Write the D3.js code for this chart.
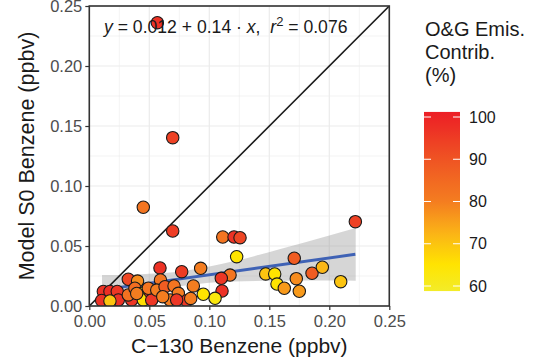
<!DOCTYPE html>
<html>
<head>
<meta charset="utf-8">
<script src="https://cdn.jsdelivr.net/npm/d3@7"></script>
<style>
  body { margin: 0; background: #fff; }
  text { font-family: "Liberation Sans", Arial, sans-serif; }
</style>
</head>
<body>
<svg id="chart" width="534" height="362"></svg>
<script>
// C-130 benzene (x), model S0 benzene (y), O&G contribution (%)
const c130 = [0.0567, 0.0695, 0.045, 0.0695, 0.1112, 0.1206, 0.1256, 0.1228, 0.2217, 0.1708,
  0.147, 0.1545, 0.1564, 0.1625, 0.1725, 0.175, 0.1856, 0.1942, 0.2095, 0.1173,
  0.110, 0.1106, 0.1048, 0.095, 0.0867, 0.0928, 0.077, 0.0589, 0.0593, 0.0325,
  0.0402, 0.0117, 0.0172, 0.0233, 0.0103, 0.0242, 0.0353, 0.0325, 0.038, 0.0437,
  0.045, 0.0506, 0.052, 0.0492, 0.0562, 0.0631, 0.0706, 0.0742, 0.0673, 0.0612,
  0.0812, 0.0845, 0.0728, 0.0172, 0.0395];
const modelS0 = [0.2361, 0.1403, 0.0823, 0.0625, 0.0575, 0.0575, 0.0569, 0.0411, 0.0703, 0.0398,
  0.0267, 0.0267, 0.0183, 0.0148, 0.0228, 0.0123, 0.0273, 0.0323, 0.0203, 0.0258,
  0.0231, 0.0125, 0.0064, 0.0098, 0.0167, 0.0314, 0.0286, 0.0317, 0.0217, 0.0223,
  0.0208, 0.0121, 0.0121, 0.0121, 0.0046, 0.005, 0.005, 0.0092, 0.0148, 0.0106,
  0.005, 0.0119, 0.005, 0.0148, 0.0133, 0.0161, 0.0167, 0.0106, 0.005, 0.0078,
  0.0044, 0.0063, 0.005, 0.0042, 0.0104];
const ogContrib = [97, 94, 82, 95, 82, 97, 93, 65, 94, 88,
  70, 65, 65, 76, 78, 76, 88, 72, 70, 82,
  96, 97, 63, 65, 80, 80, 95, 97, 82, 93,
  78, 97, 98, 96, 97, 97, 96, 83, 84, 65,
  66, 96, 96, 82, 80, 88, 82, 80, 80, 80,
  96, 80, 96, 70, 80];

// linear fit and its confidence band
const fitIntercept = 0.012;
const fitSlope = 0.14;
const bandX = [0.0106, 0.04, 0.08, 0.12, 0.16, 0.20, 0.222];
const bandLo = [0.0012, 0.0089, 0.0171, 0.0204, 0.0211, 0.0212, 0.0211];
const bandHi = [0.0258, 0.0263, 0.0293, 0.0372, 0.0477, 0.0588, 0.0651];

const axisTicks = [0, 0.05, 0.10, 0.15, 0.20, 0.25];
const gridMinor = [0.025, 0.075, 0.125, 0.175, 0.225];
const legendTicks = [60, 70, 80, 90, 100];
const legendLimits = [58.8, 101.2];
const colorStops = [59, 65, 72, 80, 90, 101];
const colorRange = ["#F3EC27", "#FFE400", "#FBB716", "#F47D20", "#EF5423", "#EC1F26"];

const svg = d3.select('#chart');
const font = '"Liberation Sans", Arial, sans-serif';
const plot = {left: 89.3, top: 6, size: 300};

const x = d3.scaleLinear().domain([0, 0.25]).range([plot.left, plot.left + plot.size]);
const y = d3.scaleLinear().domain([0, 0.25]).range([plot.top + plot.size, plot.top]);
const color = d3.scaleLinear().domain(colorStops).range(colorRange);

const defs = svg.append('defs');
defs.append('clipPath').attr('id', 'clip').append('rect')
  .attr('x', plot.left).attr('y', plot.top)
  .attr('width', plot.size).attr('height', plot.size);

// panel grid
const grid = svg.append('g');
gridMinor.forEach(v => {
  grid.append('line').attr('x1', x(v)).attr('x2', x(v)).attr('y1', y(0)).attr('y2', y(0.25))
    .attr('stroke', '#ebebeb').attr('stroke-width', 0.6);
  grid.append('line').attr('y1', y(v)).attr('y2', y(v)).attr('x1', x(0)).attr('x2', x(0.25))
    .attr('stroke', '#ebebeb').attr('stroke-width', 0.6);
});
axisTicks.forEach(v => {
  grid.append('line').attr('x1', x(v)).attr('x2', x(v)).attr('y1', y(0)).attr('y2', y(0.25))
    .attr('stroke', '#ebebeb').attr('stroke-width', 1.2);
  grid.append('line').attr('y1', y(v)).attr('y2', y(v)).attr('x1', x(0)).attr('x2', x(0.25))
    .attr('stroke', '#ebebeb').attr('stroke-width', 1.2);
});

const panel = svg.append('g').attr('clip-path', 'url(#clip)');

// confidence band
const area = d3.area().curve(d3.curveMonotoneX)
  .x((d, i) => x(bandX[i]))
  .y0((d, i) => y(bandLo[i]))
  .y1((d, i) => y(bandHi[i]));
panel.append('path').datum(bandX).attr('d', area)
  .attr('fill', '#999999').attr('fill-opacity', 0.4);

// fit line over the data range
const xMin = d3.min(c130), xMax = d3.max(c130);
panel.append('line')
  .attr('x1', x(xMin)).attr('y1', y(fitIntercept + fitSlope * xMin))
  .attr('x2', x(xMax)).attr('y2', y(fitIntercept + fitSlope * xMax))
  .attr('stroke', '#3F62B5').attr('stroke-width', 3);

// 1:1 line
panel.append('line')
  .attr('x1', x(0)).attr('y1', y(0)).attr('x2', x(0.25)).attr('y2', y(0.25))
  .attr('stroke', '#1a1a1a').attr('stroke-width', 1.6);

// points
panel.selectAll('circle').data(c130).join('circle')
  .attr('cx', (d, i) => x(d))
  .attr('cy', (d, i) => y(modelS0[i]))
  .attr('r', 6.2)
  .attr('fill', (d, i) => color(ogContrib[i]))
  .attr('stroke', '#1a1a1a').attr('stroke-width', 1.1);

// equation
const eq = svg.append('text').attr('x', 104).attr('y', 33)
  .attr('font-size', 17.6).attr('fill', '#1a1a1a');
eq.append('tspan').attr('font-style', 'italic').text('y');
eq.append('tspan').text(' = 0.012 + 0.14 \u00b7 ');
eq.append('tspan').attr('font-style', 'italic').text('x');
eq.append('tspan').text(',\u00a0\u00a0');
eq.append('tspan').attr('font-style', 'italic').text('r');
eq.append('tspan').attr('font-size', 13).attr('dy', -7).text('2');
eq.append('tspan').attr('dy', 7).text(' = 0.076');

// panel border
svg.append('rect').attr('x', plot.left).attr('y', plot.top)
  .attr('width', plot.size).attr('height', plot.size)
  .attr('fill', 'none').attr('stroke', '#333333').attr('stroke-width', 1.6);

// axes
const xAxis = svg.append('g').attr('transform', `translate(0,${plot.top + plot.size})`)
  .call(d3.axisBottom(x).tickValues(axisTicks).tickFormat(d3.format('.2f')).tickSize(4).tickSizeOuter(0));
const yAxis = svg.append('g').attr('transform', `translate(${plot.left},0)`)
  .call(d3.axisLeft(y).tickValues(axisTicks).tickFormat(d3.format('.2f')).tickSize(4).tickSizeOuter(0));
[xAxis, yAxis].forEach(g => {
  g.select('.domain').remove();
  g.selectAll('.tick line').attr('stroke', '#333333').attr('stroke-width', 1.2);
  g.selectAll('.tick text').attr('fill', '#4d4d4d').attr('font-size', 16.5).attr('font-family', font);
});
xAxis.selectAll('.tick text').attr('y', 9.5);
yAxis.selectAll('.tick text').attr('x', -7);

svg.append('text').attr('x', plot.left + plot.size / 2).attr('y', 353)
  .attr('text-anchor', 'middle').attr('font-size', 21).attr('fill', '#1a1a1a')
  .text('C\u2212130 Benzene (ppbv)');
svg.append('text')
  .attr('transform', `translate(34,${plot.top + plot.size / 2}) rotate(-90)`)
  .attr('text-anchor', 'middle').attr('font-size', 21.5).attr('fill', '#1a1a1a')
  .text('Model S0 Benzene (ppbv)');

// colour legend
const legendY = d3.scaleLinear().domain([60, 100]).range([286, 117]);
const bar = {x: 424, w: 36};
const grad = defs.append('linearGradient').attr('id', 'grad')
  .attr('x1', 0).attr('x2', 0).attr('y1', 1).attr('y2', 0);
d3.range(0, 1.0001, 0.05).forEach(t => {
  const v = legendLimits[0] + t * (legendLimits[1] - legendLimits[0]);
  grad.append('stop').attr('offset', t).attr('stop-color', color(v));
});
const legend = svg.append('g');
legend.append('rect').attr('x', bar.x).attr('y', legendY(legendLimits[1]))
  .attr('width', bar.w).attr('height', legendY(legendLimits[0]) - legendY(legendLimits[1]))
  .attr('fill', 'url(#grad)');
legendTicks.forEach(v => {
  legend.append('line').attr('x1', bar.x).attr('x2', bar.x + 7)
    .attr('y1', legendY(v)).attr('y2', legendY(v)).attr('stroke', '#fff').attr('stroke-width', 1);
  legend.append('line').attr('x1', bar.x + bar.w - 7).attr('x2', bar.x + bar.w)
    .attr('y1', legendY(v)).attr('y2', legendY(v)).attr('stroke', '#fff').attr('stroke-width', 1);
  legend.append('text').attr('x', 469).attr('y', legendY(v)).attr('dy', '0.35em')
    .attr('font-size', 16).attr('fill', '#1a1a1a').text(v);
});
['O&G Emis.', 'Contrib.', '(%)'].forEach((s, i) => {
  legend.append('text').attr('x', 425).attr('y', 36 + i * 23)
    .attr('font-size', 20).attr('fill', '#1a1a1a').text(s);
});
</script>
</body>
</html>
